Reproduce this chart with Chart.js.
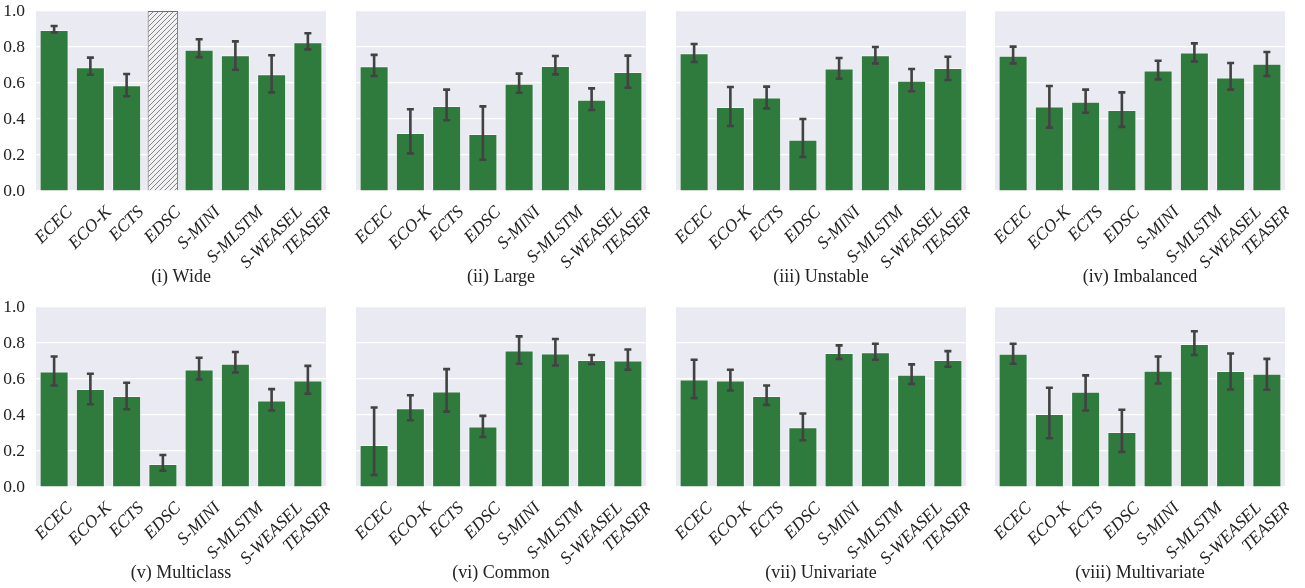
<!DOCTYPE html>
<html>
<head>
<meta charset="utf-8">
<script src="https://cdn.jsdelivr.net/npm/chart.js@4/dist/chart.umd.min.js"></script>
<style>
  html, body { margin: 0; padding: 0; background: #fff; }
  #wrap { position: relative; width: 1305px; height: 588px; overflow: hidden; }
  #wrap canvas { position: absolute; }
</style>
</head>
<body>
<div id="wrap"></div>
<script>
const methods = ["ECEC", "ECO-K", "ECTS", "EDSC", "S-MINI", "S-MLSTM", "S-WEASEL", "TEASER"];

// mean score per method, with lower / upper ends of the error bar
const wideMean = [0.894, 0.687, 0.587, null, 0.785, 0.754, 0.648, 0.826];
const wideLow = [0.881, 0.646, 0.526, null, 0.744, 0.674, 0.548, 0.787];
const wideHigh = [0.917, 0.741, 0.650, null, 0.843, 0.831, 0.754, 0.876];
// EDSC has no result on wide data: shown as a hatched full-height bar
const wideMissing = [null, null, null, 1.0, null, null, null, null];

const largeMean = [0.693, 0.322, 0.472, 0.317, 0.596, 0.694, 0.507, 0.661];
const largeLow = [0.639, 0.209, 0.393, 0.174, 0.546, 0.648, 0.450, 0.574];
const largeHigh = [0.756, 0.454, 0.563, 0.470, 0.652, 0.750, 0.570, 0.752];

const unstableMean = [0.765, 0.467, 0.519, 0.285, 0.680, 0.754, 0.613, 0.683];
const unstableLow = [0.717, 0.361, 0.459, 0.189, 0.624, 0.709, 0.554, 0.617];
const unstableHigh = [0.817, 0.578, 0.580, 0.400, 0.739, 0.800, 0.678, 0.746];

const imbalancedMean = [0.752, 0.470, 0.496, 0.450, 0.670, 0.769, 0.631, 0.707];
const imbalancedLow = [0.709, 0.352, 0.435, 0.356, 0.620, 0.720, 0.563, 0.639];
const imbalancedHigh = [0.802, 0.583, 0.563, 0.548, 0.724, 0.820, 0.711, 0.772];

const multiclassMean = [0.642, 0.545, 0.505, 0.128, 0.653, 0.685, 0.481, 0.592];
const multiclassLow = [0.564, 0.460, 0.432, 0.091, 0.597, 0.636, 0.425, 0.518];
const multiclassHigh = [0.725, 0.629, 0.579, 0.178, 0.718, 0.750, 0.544, 0.673];

const commonMean = [0.234, 0.438, 0.531, 0.336, 0.759, 0.742, 0.705, 0.703];
const commonLow = [0.067, 0.371, 0.419, 0.278, 0.685, 0.675, 0.683, 0.651];
const commonHigh = [0.442, 0.510, 0.655, 0.395, 0.837, 0.822, 0.733, 0.764];

const univariateMean = [0.597, 0.592, 0.506, 0.332, 0.744, 0.748, 0.623, 0.705];
const univariateLow = [0.494, 0.536, 0.456, 0.260, 0.711, 0.707, 0.573, 0.668];
const univariateHigh = [0.707, 0.651, 0.564, 0.408, 0.787, 0.796, 0.681, 0.755];

const multivariateMean = [0.740, 0.406, 0.529, 0.306, 0.646, 0.794, 0.644, 0.629];
const multivariateLow = [0.685, 0.271, 0.425, 0.195, 0.575, 0.733, 0.542, 0.540];
const multivariateHigh = [0.796, 0.551, 0.620, 0.429, 0.725, 0.865, 0.742, 0.712];

const yTicks = [0, 0.2, 0.4, 0.6, 0.8, 1.0];

const panels = [
  { title: "(i) Wide", mean: wideMean, low: wideLow, high: wideHigh, missing: wideMissing },
  { title: "(ii) Large", mean: largeMean, low: largeLow, high: largeHigh },
  { title: "(iii) Unstable", mean: unstableMean, low: unstableLow, high: unstableHigh },
  { title: "(iv) Imbalanced", mean: imbalancedMean, low: imbalancedLow, high: imbalancedHigh },
  { title: "(v) Multiclass", mean: multiclassMean, low: multiclassLow, high: multiclassHigh },
  { title: "(vi) Common", mean: commonMean, low: commonLow, high: commonHigh },
  { title: "(vii) Univariate", mean: univariateMean, low: univariateLow, high: univariateHigh },
  { title: "(viii) Multivariate", mean: multivariateMean, low: multivariateLow, high: multivariateHigh },
];

const GREEN = "rgb(47,122,61)";
const ERR = "#424242";
const TEXT = "#222";
const SERIF = '"Liberation Serif", "DejaVu Serif", serif';
const TICK_SIZE = 17.5;
const CW = 330, CH = 288;
const lefts = [0, 320, 640, 959];
const tops = [0, 296];

function hatchPattern() {
  const c = document.createElement("canvas");
  c.width = 5; c.height = 5;
  const g = c.getContext("2d");
  g.fillStyle = "#f1f1f3";
  g.fillRect(0, 0, 5, 5);
  g.strokeStyle = "#858585";
  g.lineWidth = 1;
  g.beginPath();
  g.moveTo(-1, 6); g.lineTo(6, -1);
  g.moveTo(-1, 1); g.lineTo(1, -1);
  g.moveTo(4, 6); g.lineTo(6, 4);
  g.stroke();
  return g.createPattern(c, "repeat");
}

// seaborn-like panel background
const panelBg = {
  id: "panelBg",
  beforeDraw(chart) {
    const { ctx, chartArea: a } = chart;
    ctx.save();
    ctx.fillStyle = "#eaeaf2";
    ctx.fillRect(a.left, a.top, a.right - a.left, a.bottom - a.top);
    ctx.restore();
  },
};

// error bars with caps
const errorBars = {
  id: "errorBars",
  afterDatasetsDraw(chart, args, opts) {
    const { ctx, scales: { x, y } } = chart;
    ctx.save();
    ctx.strokeStyle = ERR;
    ctx.lineWidth = 2.6;
    ctx.lineCap = "butt";
    opts.mean.forEach((m, i) => {
      if (m == null) return;
      const px = x.getPixelForValue(i);
      const yl = y.getPixelForValue(opts.low[i]);
      const yh = y.getPixelForValue(opts.high[i]);
      ctx.beginPath();
      ctx.moveTo(px, yl); ctx.lineTo(px, yh);
      ctx.moveTo(px - 3.5, yl); ctx.lineTo(px + 3.5, yl);
      ctx.moveTo(px - 3.5, yh); ctx.lineTo(px + 3.5, yh);
      ctx.stroke();
    });
    ctx.restore();
  },
};

// 45 degree category labels, centred under each bar
const slantLabels = {
  id: "slantLabels",
  afterDraw(chart) {
    const { ctx, chartArea: a, scales: { x } } = chart;
    const size = TICK_SIZE;
    ctx.save();
    ctx.font = "italic " + size + "px " + SERIF;
    ctx.fillStyle = TEXT;
    ctx.textAlign = "center";
    ctx.textBaseline = "middle";
    methods.forEach((lab, i) => {
      const w = ctx.measureText(lab).width;
      const h = size * 0.72;
      const half = (w + h) / (2 * Math.SQRT2);
      const cx = x.getPixelForValue(i);
      const cy = a.bottom + 14 + half;
      ctx.save();
      ctx.translate(cx, cy);
      ctx.rotate(-Math.PI / 4);
      ctx.fillText(lab, 0, 0);
      ctx.restore();
    });
    ctx.restore();
  },
};

const wrap = document.getElementById("wrap");

panels.forEach((p, k) => {
  const col = k % 4, row = Math.floor(k / 4);
  const cv = document.createElement("canvas");
  cv.width = CW; cv.height = CH;
  cv.style.left = lefts[col] + "px";
  cv.style.top = tops[row] + "px";
  wrap.appendChild(cv);

  const datasets = [{
    data: p.mean,
    backgroundColor: GREEN,
    borderColor: "rgba(255,255,255,0.55)",
    borderWidth: 1,
    barPercentage: 0.8,
    categoryPercentage: 1,
    grouped: false,
  }];
  if (p.missing) {
    datasets.push({
      data: p.missing,
      backgroundColor: hatchPattern(),
      borderColor: "#6e6e6e",
      borderWidth: 1,
      barPercentage: 0.84,
      categoryPercentage: 1,
      grouped: false,
    });
  }

  new Chart(cv, {
    type: "bar",
    data: { labels: methods, datasets },
    options: {
      responsive: false,
      animation: false,
      devicePixelRatio: 1,
      layout: { padding: { top: 11, right: 4, left: 0, bottom: 0 } },
      plugins: {
        legend: { display: false },
        tooltip: { enabled: false },
        errorBars: { mean: p.mean, low: p.low, high: p.high },
      },
      scales: {
        x: {
          grid: { display: false },
          border: { display: false },
          ticks: { display: false },
          title: {
            display: true,
            text: p.title,
            color: TEXT,
            font: { family: SERIF, size: 18 },
            padding: { top: 0, bottom: 0 },
          },
          afterFit(s) { s.height = 97; },
        },
        y: {
          min: 0,
          max: 1,
          afterBuildTicks(s) { s.ticks = yTicks.map((v) => ({ value: v })); },
          ticks: {
            display: col === 0,
            padding: 0,
            color: TEXT,
            font: { family: SERIF, size: TICK_SIZE },
            callback: (v) => Number(v).toFixed(1),
          },
          // invisible tick marks keep the labels clear of the plot edge
          grid: {
            color: "#ffffff",
            lineWidth: 1.2,
            drawTicks: true,
            tickLength: 11,
            tickColor: "rgba(0,0,0,0)",
          },
          border: { display: false },
          afterFit(s) { s.width = 36; },
        },
      },
    },
    plugins: [panelBg, errorBars, slantLabels],
  });
});
</script>
</body>
</html>
